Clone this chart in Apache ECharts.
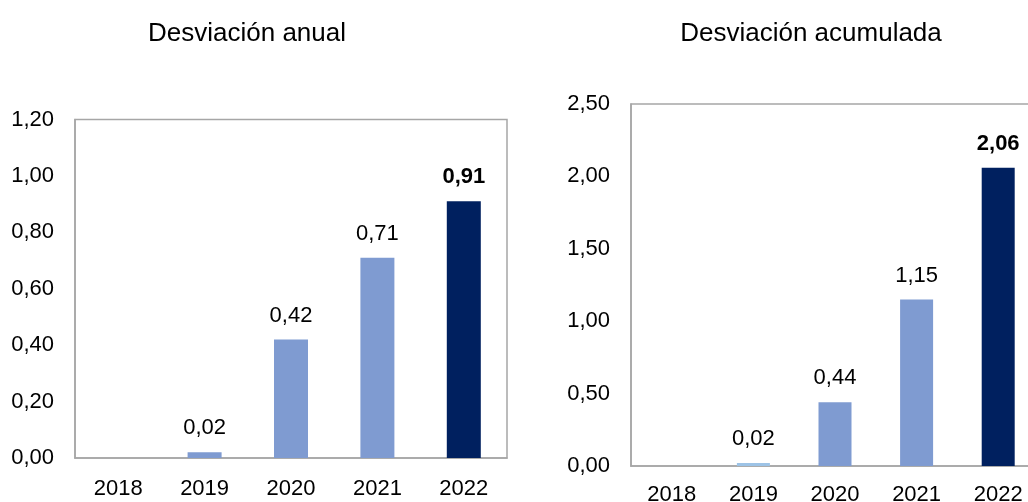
<!DOCTYPE html>
<html>
<head>
<meta charset="utf-8">
<script src="https://cdn.jsdelivr.net/npm/echarts@6/dist/echarts.min.js"></script>
<style>html,body{margin:0;padding:0;background:#fff}#c{width:1028px;height:502px}</style>
</head>
<body>
<div id="c"></div>
<script>
var categories = ['2018', '2019', '2020', '2021', '2022'];
var anual = [0, 0.02, 0.42, 0.71, 0.91];
var acumulada = [0, 0.02, 0.44, 1.15, 2.06];
var titles = ['Desviación anual', 'Desviación acumulada'];

var LIGHT = '#7F9BD1', DARK = '#00205F', PALE = '#9DC3E6';
var FONT = '"Liberation Sans", Arial, sans-serif';
function fmt(v) { return v.toFixed(2).replace('.', ','); }

function buildData(arr, paleIdx) {
  return arr.map(function (v, i) {
    var last = i === arr.length - 1;
    var col = last ? DARK : (i === paleIdx ? PALE : LIGHT);
    return {
      value: v,
      itemStyle: { color: col },
      label: { show: v !== 0, fontWeight: last ? 'bold' : 'normal' }
    };
  });
}

var chart = echarts.init(document.getElementById('c'));
var axisLineStyle = { color: '#A6A6A6', width: 1.5 };
chart.setOption({
  animation: false,
  title: [
    { text: titles[0], left: 242, top: 16, textAlign: 'center',
      textStyle: { fontFamily: FONT, fontSize: 26, fontWeight: 'normal', color: '#000' } },
    { text: titles[1], left: 806, top: 16, textAlign: 'center',
      textStyle: { fontFamily: FONT, fontSize: 26, fontWeight: 'normal', color: '#000' } }
  ],
  grid: [
    { left: 75, top: 119.5, width: 432, height: 338.5, show: true, borderColor: '#A6A6A6', borderWidth: 1.5,
      backgroundColor: 'transparent', containLabel: false, outerBoundsMode: 'none' },
    { left: 631, top: 104, width: 408, height: 362, show: true, borderColor: '#A6A6A6', borderWidth: 1.5,
      backgroundColor: 'transparent', containLabel: false, outerBoundsMode: 'none' }
  ],
  xAxis: [0, 1].map(function (g) {
    return {
      type: 'category', gridIndex: g, data: categories,
      axisTick: { show: false },
      axisLine: { lineStyle: axisLineStyle },
      axisLabel: { color: '#000', fontFamily: FONT, fontSize: 22, margin: g === 0 ? 20 : 18 }
    };
  }),
  yAxis: [
    { type: 'value', gridIndex: 0, min: 0, max: 1.2, interval: 0.2,
      splitLine: { show: false }, axisTick: { show: false },
      axisLine: { show: true, lineStyle: axisLineStyle },
      axisLabel: { color: '#000', fontFamily: FONT, fontSize: 22, margin: 21, formatter: fmt } },
    { type: 'value', gridIndex: 1, min: 0, max: 2.5, interval: 0.5,
      splitLine: { show: false }, axisTick: { show: false },
      axisLine: { show: true, lineStyle: axisLineStyle },
      axisLabel: { color: '#000', fontFamily: FONT, fontSize: 22, margin: 21, formatter: fmt } }
  ],
  series: [
    { type: 'bar', xAxisIndex: 0, yAxisIndex: 0, barWidth: 34, data: buildData(anual, -1),
      label: { show: true, position: 'top', distance: 13, color: '#000', fontFamily: FONT, fontSize: 22,
        formatter: function (p) { return fmt(p.value); } } },
    { type: 'bar', xAxisIndex: 1, yAxisIndex: 1, barWidth: 33, data: buildData(acumulada, 1),
      label: { show: true, position: 'top', distance: 13, color: '#000', fontFamily: FONT, fontSize: 22,
        formatter: function (p) { return fmt(p.value); } } }
  ]
});
</script>
</body>
</html>
